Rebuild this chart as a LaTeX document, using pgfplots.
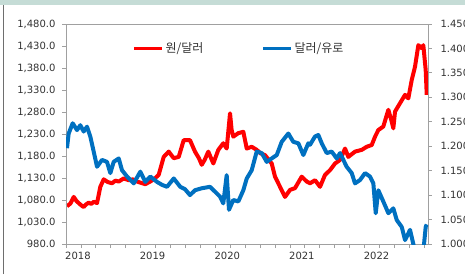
\documentclass[border=0pt]{standalone}
\usepackage{pgfplots}
\pgfplotsset{compat=1.18}
\usepackage{fontspec}
\setmainfont{DejaVu Sans}
\newfontfamily\kr{Noto Sans CJK KR}
\definecolor{krw}{RGB}{255,0,0}
\definecolor{eur}{RGB}{0,112,192}
\definecolor{axgray}{RGB}{160,160,160}
\definecolor{txt}{RGB}{50,50,50}
\definecolor{topbar}{RGB}{197,220,214}
\definecolor{frame}{RGB}{110,110,110}

\pgfplotstableread{
year krw
2018.013 1066
2018.060 1072
2018.104 1087
2018.140 1078
2018.171 1073
2018.205 1068
2018.238 1064
2018.270 1070
2018.306 1074
2018.340 1071
2018.373 1076
2018.418 1073
2018.462 1110
2018.508 1127
2018.560 1121
2018.620 1118
2018.665 1124
2018.710 1122
2018.777 1129
2018.844 1125
2018.900 1127
2018.956 1122
2019.010 1119
2019.068 1116
2019.135 1122
2019.190 1128
2019.248 1137
2019.316 1178
2019.383 1190
2019.451 1175
2019.518 1178
2019.585 1216
2019.670 1216
2019.737 1190
2019.790 1175
2019.828 1160
2019.870 1172
2019.916 1190
2019.984 1163
2020.051 1194
2020.118 1209
2020.164 1197
2020.209 1277
2020.230 1240
2020.253 1224
2020.321 1232
2020.388 1235
2020.434 1197
2020.501 1201
2020.568 1194
2020.620 1186
2020.680 1182
2020.770 1163
2020.815 1133
2020.882 1110
2020.949 1087
2021.017 1103
2021.084 1107
2021.174 1133
2021.242 1122
2021.286 1118
2021.354 1125
2021.421 1110
2021.488 1137
2021.556 1148
2021.623 1163
2021.690 1171
2021.758 1197
2021.802 1178
2021.892 1190
2021.983 1194
2022.050 1201
2022.117 1205
2022.162 1224
2022.206 1239
2022.273 1247
2022.341 1285
2022.380 1262
2022.408 1243
2022.431 1281
2022.498 1300
2022.566 1319
2022.610 1311
2022.656 1353
2022.700 1383
2022.745 1432
2022.791 1425
2022.812 1432
2022.844 1375
2022.858 1319
}\krwdata

\pgfplotstableread{
year eur
2018.013 1.196
2018.036 1.226
2018.090 1.247
2018.148 1.233
2018.193 1.243
2018.238 1.230
2018.283 1.240
2018.327 1.220
2018.373 1.189
2018.418 1.158
2018.485 1.172
2018.552 1.168
2018.597 1.145
2018.642 1.168
2018.710 1.175
2018.754 1.151
2018.822 1.138
2018.912 1.124
2019.001 1.148
2019.068 1.127
2019.135 1.138
2019.226 1.127
2019.293 1.121
2019.360 1.117
2019.451 1.134
2019.539 1.117
2019.603 1.112
2019.670 1.100
2019.737 1.110
2019.828 1.114
2019.939 1.117
2020.007 1.107
2020.074 1.097
2020.118 1.083
2020.164 1.141
2020.195 1.070
2020.253 1.090
2020.321 1.087
2020.388 1.110
2020.434 1.134
2020.501 1.151
2020.568 1.189
2020.636 1.186
2020.703 1.168
2020.770 1.175
2020.838 1.182
2020.905 1.209
2020.994 1.226
2021.061 1.209
2021.129 1.206
2021.196 1.182
2021.263 1.206
2021.286 1.203
2021.354 1.220
2021.398 1.223
2021.444 1.206
2021.511 1.186
2021.578 1.189
2021.646 1.175
2021.690 1.186
2021.735 1.172
2021.780 1.158
2021.848 1.145
2021.892 1.124
2021.960 1.131
2022.027 1.145
2022.094 1.138
2022.139 1.124
2022.171 1.063
2022.206 1.110
2022.273 1.087
2022.341 1.063
2022.408 1.073
2022.454 1.049
2022.521 1.035
2022.566 1.008
2022.633 1.029
2022.700 0.985
2022.768 0.990
2022.812 0.985
2022.844 1.035
2022.858 1.040
}\eurdata

\pgfplotsset{
  common/.style={
    at={(0pt,0pt)}, anchor=south west,
    scale only axis, width=362pt, height=220pt,
    xmin=2018, xmax=2022.875,
    axis line style={axgray, line width=0.8pt},
    tick style={axgray, line width=0.8pt},
    tick align=outside, major tick length=4pt,
    tick label style={font=\fontsize{10}{12}\selectfont, text=txt},
    /pgf/number format/assume math mode=true,
  }
}

\begin{document}
\begin{tikzpicture}
\useasboundingbox (-66pt,-30pt) rectangle (399pt,244pt);
\fill[topbar] (-66pt,239pt) rectangle (399pt,244pt);
\draw[frame, line width=1pt] (-62pt,-30pt) -- (-62pt,239pt);

\begin{axis}[common,
  ymin=980, ymax=1480,
  ytick={980,1030,1080,1130,1180,1230,1280,1330,1380,1430,1480},
  ytick pos=left, xtick pos=bottom,
  yticklabel style={xshift=-3pt, /pgf/number format/.cd, fixed, fixed zerofill, precision=1, 1000 sep={,}},
  xtick={2018,2018.201,2018.402,2018.603,2018.804,2019.005,2019.206,2019.408,2019.609,2019.810,2020.011,2020.212,2020.413,2020.614,2020.815,2021.016,2021.217,2021.418,2021.619,2021.821,2022.022,2022.223,2022.424,2022.625,2022.826},
  xticklabels={,2018,,,,,2019,,,,,2020,,,,,2021,,,,,2022,,,},
  xticklabel style={xshift=-3pt, yshift=-1pt},
]
\addplot[krw, line width=4pt, line join=round] table[x=year, y=krw] {\krwdata};
\end{axis}

\begin{axis}[common,
  ymin=1.0, ymax=1.45,
  ytick={1.00,1.05,1.10,1.15,1.20,1.25,1.30,1.35,1.40,1.45},
  ytick pos=right, yticklabel pos=right,
  xtick=\empty,
  yticklabel style={xshift=5pt, /pgf/number format/.cd, fixed, fixed zerofill, precision=3},
  legend style={at={(0.478,0.89)}, anchor=center, draw=none, fill=none,
    font=\kr\fontsize{12}{14}\selectfont, text=txt,
    /tikz/every even column/.append style={column sep=56pt}},
  legend columns=2,
  legend image code/.code={\draw[#1, line width=3pt] (0pt,0pt) -- (28pt,0pt);},
]
\addlegendimage{krw}
\addlegendentry{원/달러}
\addplot[eur, line width=4pt, line join=round] table[x=year, y=eur] {\eurdata};
\addlegendentry{달러/유로}
\end{axis}
\end{tikzpicture}
\end{document}
